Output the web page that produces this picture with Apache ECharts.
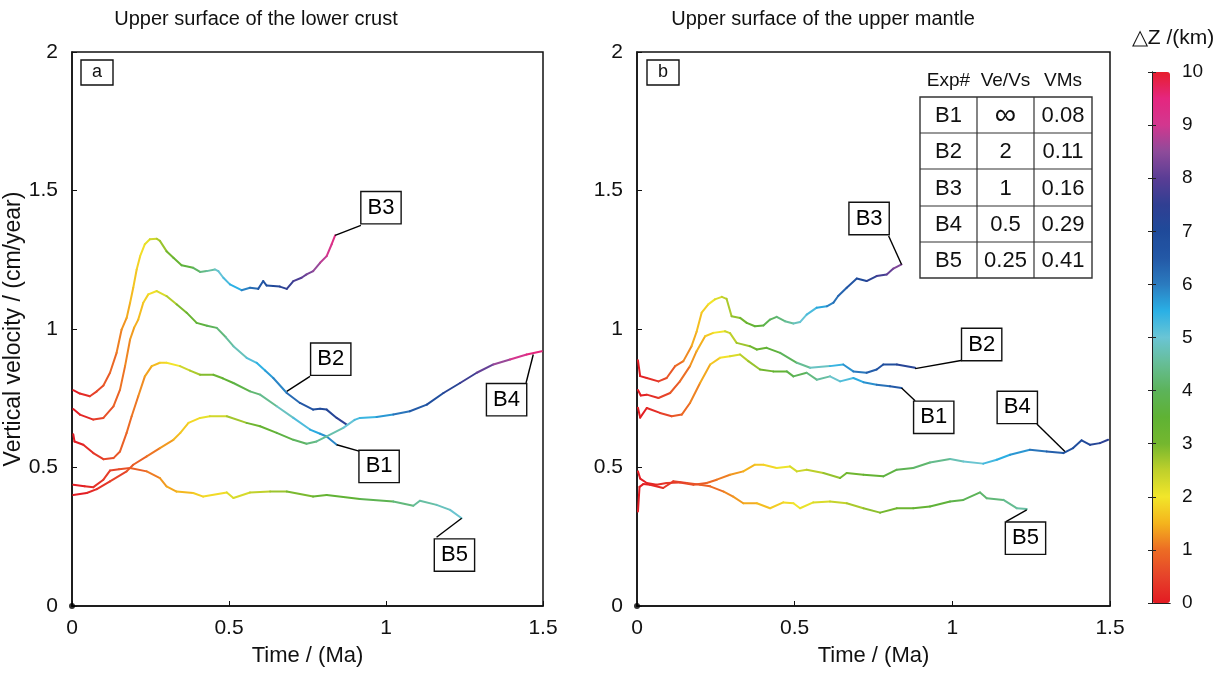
<!DOCTYPE html>
<html>
<head>
<meta charset="utf-8">
<script src="https://cdn.jsdelivr.net/npm/echarts@6/dist/echarts.min.js"></script>
<style>
html, body { margin: 0; padding: 0; background: #fff; }
#chart { width: 1229px; height: 675px; }
</style>
</head>
<body>
<div id="chart"></div>
<script>
// each point: [time (Ma), vertical velocity (cm/year), dZ (km)]
// panel a - upper surface of the lower crust
var aB1 = [[0.004,0.620,0.0],[0.008,0.594,0.03],[0.036,0.582,0.2],[0.068,0.552,0.38],[0.100,0.530,0.56],[0.132,0.534,0.73],[0.153,0.558,0.85],[0.174,0.625,0.97],[0.190,0.685,1.07],[0.211,0.757,1.22],[0.232,0.829,1.38],[0.254,0.866,1.57],[0.280,0.878,1.80],[0.301,0.878,1.98],[0.344,0.866,2.36],[0.376,0.850,2.63],[0.408,0.835,2.90],[0.450,0.835,3.25],[0.480,0.822,3.50],[0.514,0.805,3.78],[0.567,0.775,4.20],[0.599,0.763,4.45],[0.652,0.721,4.84],[0.705,0.679,5.21],[0.758,0.637,5.56],[0.790,0.622,5.76],[0.811,0.612,5.89],[0.843,0.582,6.08]];
var aB2 = [[0.004,0.711,0.0],[0.025,0.691,0.15],[0.068,0.673,0.45],[0.100,0.679,0.67],[0.132,0.721,0.89],[0.153,0.781,1.05],[0.169,0.866,1.18],[0.185,0.962,1.33],[0.198,1.005,1.46],[0.211,1.034,1.59],[0.227,1.095,1.76],[0.243,1.125,1.93],[0.270,1.137,2.24],[0.301,1.119,2.59],[0.333,1.089,2.94],[0.365,1.059,3.29],[0.397,1.022,3.62],[0.430,1.012,3.96],[0.461,1.004,4.27],[0.490,0.970,4.56],[0.514,0.938,4.79],[0.556,0.896,5.17],[0.588,0.878,5.46],[0.615,0.850,5.69],[0.641,0.823,5.91],[0.684,0.769,6.25],[0.726,0.733,6.56],[0.768,0.709,6.86],[0.790,0.712,7.02],[0.811,0.709,7.17],[0.843,0.679,7.39],[0.875,0.655,7.60]];
var aB3 = [[0.004,0.779,0.0],[0.025,0.767,0.2],[0.057,0.757,0.45],[0.079,0.775,0.6],[0.100,0.796,0.78],[0.121,0.842,0.95],[0.142,0.914,1.13],[0.158,0.998,1.28],[0.174,1.040,1.44],[0.185,1.095,1.56],[0.195,1.149,1.67],[0.206,1.215,1.80],[0.217,1.263,1.93],[0.232,1.306,2.12],[0.248,1.324,2.33],[0.270,1.326,2.62],[0.280,1.318,2.75],[0.301,1.281,3.03],[0.323,1.257,3.31],[0.349,1.230,3.63],[0.386,1.221,4.08],[0.408,1.206,4.35],[0.429,1.209,4.60],[0.455,1.215,4.92],[0.466,1.209,5.05],[0.482,1.185,5.24],[0.503,1.161,5.49],[0.540,1.140,5.92],[0.567,1.149,6.23],[0.593,1.145,6.53],[0.609,1.173,6.71],[0.620,1.157,6.84],[0.641,1.155,7.08],[0.662,1.153,7.32],[0.684,1.145,7.57],[0.705,1.173,7.82],[0.731,1.185,8.12],[0.747,1.197,8.31],[0.768,1.209,8.56],[0.790,1.239,8.83],[0.811,1.263,9.09],[0.827,1.306,9.30],[0.838,1.338,9.45]];
var aB4 = [[0.004,0.401,0.0],[0.047,0.408,0.18],[0.079,0.422,0.32],[0.121,0.450,0.5],[0.174,0.486,0.75],[0.195,0.510,0.85],[0.238,0.540,1.07],[0.280,0.570,1.31],[0.323,0.600,1.56],[0.345,0.625,1.70],[0.371,0.661,1.86],[0.408,0.679,2.11],[0.439,0.685,2.32],[0.493,0.685,2.69],[0.556,0.661,3.11],[0.599,0.649,3.39],[0.652,0.625,3.73],[0.705,0.600,4.06],[0.747,0.586,4.31],[0.779,0.594,4.50],[0.811,0.612,4.69],[0.864,0.643,5.02],[0.900,0.672,5.26],[0.917,0.679,5.37],[0.970,0.682,5.73],[1.023,0.691,6.09],[1.076,0.703,6.46],[1.130,0.727,6.85],[1.183,0.769,7.25],[1.236,0.805,7.67],[1.289,0.842,8.11],[1.342,0.872,8.57],[1.395,0.890,9.04],[1.448,0.908,9.51],[1.496,0.920,9.95]];
var aB5 = [[0.004,0.438,0.0],[0.040,0.432,0.17],[0.068,0.429,0.29],[0.100,0.456,0.43],[0.121,0.489,0.53],[0.150,0.494,0.67],[0.185,0.498,0.85],[0.238,0.486,1.11],[0.280,0.462,1.31],[0.301,0.432,1.41],[0.333,0.413,1.54],[0.386,0.408,1.76],[0.418,0.395,1.89],[0.493,0.410,2.19],[0.514,0.390,2.27],[0.567,0.410,2.48],[0.631,0.413,2.74],[0.684,0.413,2.96],[0.768,0.395,3.30],[0.811,0.401,3.47],[0.917,0.386,3.89],[1.023,0.377,4.29],[1.087,0.362,4.53],[1.108,0.380,4.61],[1.161,0.365,4.81],[1.204,0.347,4.96],[1.241,0.317,5.08]];

// panel b - upper surface of the upper mantle
var bB1 = [[0.003,0.716,0.0],[0.010,0.680,0.05],[0.031,0.715,0.2],[0.073,0.697,0.5],[0.110,0.685,0.76],[0.142,0.691,0.98],[0.168,0.733,1.16],[0.200,0.805,1.41],[0.232,0.872,1.68],[0.263,0.896,1.95],[0.295,0.902,2.24],[0.327,0.908,2.53],[0.353,0.884,2.76],[0.390,0.854,3.08],[0.432,0.847,3.44],[0.475,0.847,3.80],[0.496,0.829,3.98],[0.538,0.842,4.33],[0.570,0.817,4.59],[0.612,0.829,4.94],[0.644,0.811,5.20],[0.686,0.823,5.54],[0.718,0.808,5.80],[0.760,0.799,6.14],[0.802,0.793,6.48],[0.839,0.787,6.77]];
var bB2 = [[0.003,0.780,0.0],[0.012,0.760,0.06],[0.031,0.763,0.22],[0.068,0.751,0.5],[0.105,0.769,0.78],[0.136,0.811,1.02],[0.168,0.866,1.29],[0.189,0.920,1.47],[0.216,0.974,1.73],[0.242,0.986,1.99],[0.279,0.992,2.36],[0.295,0.985,2.51],[0.316,0.950,2.72],[0.358,0.938,3.12],[0.380,0.926,3.32],[0.411,0.932,3.61],[0.454,0.914,4.01],[0.507,0.878,4.49],[0.549,0.860,4.86],[0.612,0.866,5.40],[0.654,0.872,5.77],[0.686,0.847,6.04],[0.728,0.842,6.40],[0.760,0.854,6.67],[0.781,0.872,6.86],[0.824,0.872,7.23],[0.882,0.860,7.73]];
var bB3 = [[0.003,0.887,0.0],[0.010,0.830,0.06],[0.031,0.823,0.24],[0.068,0.811,0.54],[0.094,0.823,0.76],[0.121,0.866,0.98],[0.147,0.884,1.21],[0.173,0.938,1.44],[0.189,0.990,1.60],[0.205,1.059,1.76],[0.226,1.089,1.99],[0.247,1.107,2.22],[0.269,1.116,2.47],[0.284,1.109,2.63],[0.300,1.046,2.80],[0.327,1.040,3.08],[0.348,1.022,3.30],[0.374,1.010,3.56],[0.401,1.013,3.84],[0.422,1.034,4.06],[0.443,1.044,4.27],[0.469,1.028,4.54],[0.496,1.020,4.81],[0.517,1.025,5.03],[0.538,1.052,5.25],[0.570,1.077,5.59],[0.602,1.082,5.93],[0.623,1.095,6.16],[0.638,1.119,6.33],[0.665,1.149,6.63],[0.697,1.182,7.00],[0.728,1.173,7.37],[0.760,1.191,7.74],[0.792,1.197,8.12],[0.813,1.218,8.37],[0.839,1.233,8.69]];
var bB4 = [[0.003,0.486,0.0],[0.010,0.460,0.04],[0.031,0.444,0.13],[0.062,0.438,0.27],[0.094,0.444,0.41],[0.136,0.446,0.60],[0.179,0.438,0.78],[0.221,0.444,0.97],[0.253,0.456,1.11],[0.295,0.474,1.31],[0.337,0.486,1.51],[0.374,0.510,1.69],[0.401,0.510,1.83],[0.443,0.498,2.05],[0.485,0.504,2.26],[0.507,0.486,2.37],[0.538,0.492,2.52],[0.591,0.480,2.78],[0.644,0.462,3.03],[0.665,0.480,3.13],[0.718,0.474,3.38],[0.781,0.468,3.68],[0.824,0.492,3.89],[0.876,0.498,4.15],[0.929,0.518,4.42],[0.993,0.531,4.75],[1.035,0.522,4.97],[1.098,0.514,5.30],[1.141,0.528,5.52],[1.183,0.546,5.75],[1.246,0.564,6.10],[1.299,0.558,6.40],[1.352,0.552,6.69],[1.383,0.570,6.87],[1.410,0.598,7.03],[1.437,0.582,7.19],[1.468,0.588,7.37],[1.494,0.600,7.52]];
var bB5 = [[0.003,0.341,0.0],[0.008,0.430,0.03],[0.020,0.440,0.08],[0.041,0.438,0.17],[0.083,0.426,0.35],[0.115,0.450,0.49],[0.158,0.444,0.68],[0.200,0.438,0.87],[0.232,0.432,1.01],[0.275,0.413,1.19],[0.305,0.395,1.31],[0.337,0.371,1.43],[0.380,0.371,1.59],[0.422,0.353,1.74],[0.464,0.374,1.90],[0.496,0.371,2.01],[0.517,0.353,2.09],[0.559,0.374,2.24],[0.612,0.377,2.44],[0.665,0.371,2.64],[0.718,0.353,2.83],[0.771,0.337,3.01],[0.824,0.353,3.19],[0.876,0.353,3.38],[0.929,0.359,3.57],[0.993,0.377,3.80],[1.035,0.383,3.96],[1.088,0.410,4.17],[1.109,0.389,4.25],[1.162,0.383,4.46],[1.204,0.353,4.61],[1.236,0.350,4.72]];

var originDot = [[0, 0]];

// inset table of panel b
var tableHead = ['Exp#', 'Ve/Vs', 'VMs'];
var tableExp = ['B1', 'B2', 'B3', 'B4', 'B5'];
var tableRatio = ['\u221e', '2', '1', '0.5', '0.25'];
var tableVMs = ['0.08', '0.11', '0.16', '0.29', '0.41'];

// callout labels: names, then [curve point t,v, leader end t,v, box centre t,v]
var calloutNamesA = ['B1', 'B2', 'B3', 'B4', 'B5'];
var calloutsA = [[0.843,0.582, 0.917,0.558, 0.978,0.504],
                 [0.684,0.775, 0.758,0.829, 0.824,0.891],
                 [0.838,1.338, 0.920,1.374, 0.984,1.438],
                 [1.469,0.908, 1.446,0.805, 1.384,0.745],
                 [1.241,0.317, 1.161,0.248, 1.218,0.184]];
var calloutNamesB = ['B1', 'B2', 'B3', 'B4', 'B5'];
var calloutsB = [[0.839,0.787, 0.882,0.741, 0.941,0.681],
                 [0.882,0.857, 1.032,0.887, 1.093,0.944],
                 [0.839,1.233, 0.798,1.336, 0.736,1.399],
                 [1.357,0.558, 1.268,0.657, 1.206,0.717],
                 [1.236,0.347, 1.170,0.305, 1.232,0.245]];

// colour scale for dZ, 0 .. 10 km in steps of 0.5
var dzColors = ['#e31b23','#e6432a','#ec6c24','#f4b41d','#f2e62a','#bfd02b','#74b72f','#5fb234','#5cb35a','#66bd95',
                '#6ac5d5','#2ab0e5','#2b7bbf','#2358a6','#1f4a9a','#303f92','#5a3d95','#8e4b9a','#d2378f','#e5267f','#e61e2d'];

var FONT = '"Liberation Sans", Arial, Helvetica, sans-serif';

var chart = echarts.init(document.getElementById('chart'), null, { renderer: 'canvas' });

function curveSeries(arr, idx) {
  return {
    type: 'custom',
    xAxisIndex: idx, yAxisIndex: idx,
    clip: true,
    data: arr,
    encode: { x: 0, y: 1 },
    renderItem: function (params, api) {
      var i = params.dataIndex;
      var next = arr[i + 1];
      if (!next) return null;
      var p0 = api.coord([api.value(0), api.value(1)]);
      var p1 = api.coord([next[0], next[1]]);
      return {
        type: 'line',
        shape: { x1: p0[0], y1: p0[1], x2: p1[0], y2: p1[1] },
        style: { stroke: api.visual('color'), lineWidth: 2, lineCap: 'round' }
      };
    }
  };
}

function calloutSeries(arr, names, idx) {
  return {
    type: 'custom',
    xAxisIndex: idx, yAxisIndex: idx,
    data: arr,
    z: 5,
    renderItem: function (params, api) {
      var tip = api.coord([api.value(0), api.value(1)]);
      var end = api.coord([api.value(2), api.value(3)]);
      var box = api.coord([api.value(4), api.value(5)]);
      return {
        type: 'group',
        children: [
          { type: 'line', shape: { x1: tip[0], y1: tip[1], x2: end[0], y2: end[1] },
            style: { stroke: '#000', lineWidth: 1.4 } },
          { type: 'text', x: box[0], y: box[1],
            style: { text: names[params.dataIndex], align: 'center', verticalAlign: 'middle',
                     fontSize: 22, fontFamily: FONT, fill: '#000', backgroundColor: '#fff',
                     borderColor: '#111', borderWidth: 1.4, padding: [5, 6, 4, 6] } }
        ]
      };
    }
  };
}

function dotSeries(idx) {
  return { type: 'scatter', xAxisIndex: idx, yAxisIndex: idx, data: originDot,
           symbolSize: 6, itemStyle: { color: '#000' }, silent: true, z: 6 };
}

var axisText = { fontSize: 21, color: '#111', fontFamily: FONT };

function xAx(idx) {
  return {
    type: 'value', gridIndex: idx, min: 0, max: 1.5, interval: 0.5,
    name: 'Time / (Ma)', nameLocation: 'middle', nameGap: 39,
    nameTextStyle: { fontSize: 22, color: '#111', fontFamily: FONT },
    axisLine: { lineStyle: { color: '#111', width: 1.5 } },
    axisTick: { inside: true, length: 5, lineStyle: { color: '#111' } },
    axisLabel: Object.assign({ margin: 12 }, axisText),
    splitLine: { show: false }
  };
}
function yAx(idx, withName) {
  return {
    type: 'value', gridIndex: idx, min: 0, max: 2, interval: 0.5,
    name: withName ? 'Vertical velocity / (cm/year)' : '',
    nameLocation: 'middle', nameGap: 39, nameRotate: 90,
    nameTextStyle: { fontSize: 23, color: '#111', fontFamily: FONT },
    axisLine: { show: true, lineStyle: { color: '#111', width: 1.5 } },
    axisTick: { show: true, inside: true, length: 5, lineStyle: { color: '#111' } },
    axisLabel: Object.assign({ margin: 14 }, axisText),
    splitLine: { show: false }
  };
}

// colour bar frame and labels
var barAxisBase = {
  gridIndex: 2, type: 'value', min: 0, max: 10, interval: 1, z: 10,
  axisLine: { show: true, lineStyle: { color: '#222', width: 1 } },
  axisTick: { show: true, inside: true, length: 4, lineStyle: { color: '#222' } },
  splitLine: { show: false }
};

// table drawn as graphic elements
var colX = [920, 977, 1034, 1092];
var rowY = [97, 133, 169, 206, 242, 278];
var tableGraphics = [];
tableGraphics.push({ type: 'rect', shape: { x: colX[0], y: rowY[0], width: colX[3] - colX[0], height: rowY[5] - rowY[0] },
  style: { fill: '#fff', stroke: '#333', lineWidth: 1.4 }, z: 20 });
for (var c = 1; c < 3; c++) {
  tableGraphics.push({ type: 'line', shape: { x1: colX[c], y1: rowY[0], x2: colX[c], y2: rowY[5] },
    style: { stroke: '#333', lineWidth: 1.2 }, z: 21 });
}
for (var r = 1; r < 5; r++) {
  tableGraphics.push({ type: 'line', shape: { x1: colX[0], y1: rowY[r], x2: colX[3], y2: rowY[r] },
    style: { stroke: '#333', lineWidth: 1.2 }, z: 21 });
}
var cols = [tableExp, tableRatio, tableVMs];
for (var k = 0; k < 3; k++) {
  var cx = (colX[k] + colX[k + 1]) / 2;
  tableGraphics.push({ type: 'text', x: cx, y: 81, z: 21,
    style: { text: tableHead[k], align: 'center', verticalAlign: 'middle', fontSize: 19, fontFamily: FONT, fill: '#111' } });
  for (var j = 0; j < 5; j++) {
    tableGraphics.push({ type: 'text', x: cx, y: (rowY[j] + rowY[j + 1]) / 2 + 1, z: 21,
      style: { text: cols[k][j], align: 'center', verticalAlign: 'middle',
               fontSize: cols[k][j] === '\u221e' ? 30 : 22, fontFamily: FONT, fill: '#111' } });
  }
}

var panelLetters = [];
[['a', 81], ['b', 647]].forEach(function (p) {
  panelLetters.push({ type: 'rect', shape: { x: p[1], y: 60, width: 32, height: 25 },
    style: { fill: '#fff', stroke: '#111', lineWidth: 1.4 }, z: 20 });
  panelLetters.push({ type: 'text', x: p[1] + 16, y: 72.5, z: 21,
    style: { text: p[0], align: 'center', verticalAlign: 'middle', fontSize: 18, fontFamily: FONT, fill: '#111' } });
});

var titleGraphics = [
  { type: 'text', x: 256, y: 19, style: { text: 'Upper surface of the lower crust', align: 'center', verticalAlign: 'middle', fontSize: 20, fontFamily: FONT, fill: '#111' } },
  { type: 'text', x: 823, y: 19, style: { text: 'Upper surface of the upper mantle', align: 'center', verticalAlign: 'middle', fontSize: 20, fontFamily: FONT, fill: '#111' } },
  { type: 'text', x: 1173, y: 38, style: { text: '\u25b3Z /(km)', align: 'center', verticalAlign: 'middle', fontSize: 21, fontFamily: FONT, fill: '#111' } }
];

var option = {
  backgroundColor: '#fff',
  animation: false,
  textStyle: { fontFamily: FONT },
  grid: [
    { left: 72, top: 52, width: 471, height: 554, show: true, borderColor: '#111', borderWidth: 1.5, backgroundColor: 'transparent', outerBoundsMode: 'none' },
    { left: 637, top: 52, width: 473, height: 554, show: true, borderColor: '#111', borderWidth: 1.5, backgroundColor: 'transparent', outerBoundsMode: 'none' },
    { left: 1152, top: 72, width: 18, height: 531, show: false, outerBoundsMode: 'none' }
  ],
  xAxis: [
    xAx(0), xAx(1),
    { gridIndex: 2, type: 'value', min: 0, max: 1, z: 10, position: 'bottom',
      axisLine: { show: true, lineStyle: { color: '#222', width: 1 } }, axisTick: { show: false }, axisLabel: { show: false }, splitLine: { show: false } },
    { gridIndex: 2, type: 'value', min: 0, max: 1, z: 10, position: 'top',
      axisLine: { show: true, lineStyle: { color: '#222', width: 1 } }, axisTick: { show: false }, axisLabel: { show: false }, splitLine: { show: false } }
  ],
  yAxis: [
    yAx(0, true), yAx(1, false),
    Object.assign({}, barAxisBase, { position: 'right',
      axisLabel: { show: true, margin: 12, fontSize: 19, color: '#111', fontFamily: FONT } }),
    Object.assign({}, barAxisBase, { position: 'left', axisLabel: { show: false } })
  ],
  visualMap: {
    type: 'continuous', min: 0, max: 10, dimension: 2,
    seriesIndex: [0, 1, 2, 3, 4, 5, 6, 7, 8, 9],
    inRange: { color: dzColors },
    calculable: false, hoverLink: false, padding: 0,
    left: 1152, top: 72, itemWidth: 18, itemHeight: 531,
    text: null, showLabel: false
  },
  graphic: titleGraphics.concat(panelLetters, tableGraphics),
  series: [
    curveSeries(aB1, 0), curveSeries(aB2, 0), curveSeries(aB3, 0), curveSeries(aB4, 0), curveSeries(aB5, 0),
    curveSeries(bB1, 1), curveSeries(bB2, 1), curveSeries(bB3, 1), curveSeries(bB4, 1), curveSeries(bB5, 1),
    dotSeries(0), dotSeries(1),
    calloutSeries(calloutsA, calloutNamesA, 0), calloutSeries(calloutsB, calloutNamesB, 1)
  ]
};

chart.setOption(option);
</script>
</body>
</html>
